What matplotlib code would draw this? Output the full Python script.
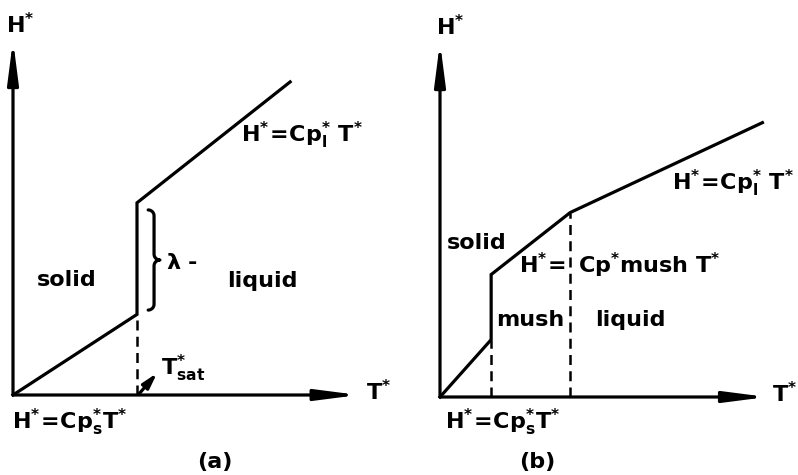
import numpy as np
import matplotlib
matplotlib.use('Agg')
import matplotlib.pyplot as plt

plt.rcParams['font.family'] = 'DejaVu Sans'
plt.rcParams['font.weight'] = 'bold'
plt.rcParams['mathtext.fontset'] = 'dejavusans'
plt.rcParams['mathtext.default'] = 'bf'

# enthalpy-temperature curves (schematic units)
# (a) pure substance: jump of lambda at T_sat
T_a = [0.0, 4.0, 4.0, 8.94]
H_a = [0.0, 2.6, 6.2, 10.1]
# (b) alloy: mushy zone between solidus and liquidus
T_b = [0.0, 1.65, 1.65, 4.2, 10.4]
H_b = [0.0, 1.85, 3.95, 5.95, 8.85]

PX = 31.0  # pixels per unit
LW = 2.3
FS = 16


def panel(fig, left_px, width_px, x0_px, y0_px):
    W, H = 798, 475
    ax = fig.add_axes([left_px / W, 0, width_px / W, 1])
    ax.set_xlim(-(x0_px - left_px) / PX, (left_px + width_px - x0_px) / PX)
    ax.set_ylim(-(H - y0_px) / PX, y0_px / PX)
    ax.axis('off')
    return ax


def axes_arrows(ax, xmax, ymax):
    style = dict(arrowstyle='-|>,head_length=1.4,head_width=0.18',
                 lw=LW, color='black', mutation_scale=18,
                 shrinkA=0, shrinkB=0)
    ax.annotate('', xy=(xmax, 0), xytext=(0, 0), arrowprops=style)
    ax.annotate('', xy=(0, ymax), xytext=(0, 0), arrowprops=style)


def brace(ax, x, y0, y1, w):
    # right-pointing curly brace between y0 and y1
    ym = 0.5 * (y0 + y1)
    r = w * 0.5
    t = np.linspace(0, np.pi / 2, 12)
    xs, ys = [], []
    xs += list(x - r + r * np.sin(t)); ys += list(y0 + r - r * np.cos(t))
    xs += [x, x]; ys += [y0 + r, ym - r]
    xs += list(x + r * (1 - np.cos(t))); ys += list(ym - r + r * np.sin(t))
    xs += list(x + r * (1 - np.cos(t[::-1]))); ys += list(ym + r - r * np.sin(t[::-1]))
    xs += [x, x]; ys += [ym + r, y1 - r]
    xs += list(x - r + r * np.cos(t)); ys += list(y1 - r + r * np.sin(t))
    ax.plot(xs, ys, color='black', lw=LW, solid_capstyle='round')


fig = plt.figure(figsize=(7.98, 4.75), dpi=100)

# ---------------- (a) ----------------
ax = panel(fig, 0, 400, 13, 395)
axes_arrows(ax, 11.15, 11.45)
ax.plot(T_a, H_a, color='black', lw=LW, solid_joinstyle='miter')
ax.plot([T_a[1], T_a[1]], [0, H_a[1]], color='black', lw=1.8, ls=(0, (4, 2.5)))
brace(ax, 4.55, 2.74, 5.97, 0.38)
ax.text(0.23, 11.94, r'$H^{*}$', fontsize=FS, ha='center', va='center')
ax.text(11.8, 0.1, r'$T^{*}$', fontsize=FS, ha='center', va='center')
ax.text(1.74, 3.71, 'solid', fontsize=FS, ha='center', va='center')
ax.text(8.06, 3.68, 'liquid', fontsize=FS, ha='center', va='center')
ax.text(5.45, 4.26, r'$\lambda$ -', fontsize=FS, ha='center', va='center')
ax.text(9.32, 8.39, r'$H^{*}\!=\!Cp_{l}^{*}\ T^{*}$', fontsize=FS, ha='center', va='center')
ax.text(1.84, -0.87, r'$H^{*}\!=\!Cp_{s}^{*}T^{*}$', fontsize=FS, ha='center', va='center')
ax.text(5.5, 0.87, r'$T_{sat}^{*}$', fontsize=FS, ha='center', va='center')
ax.annotate('', xy=(4.65, 0.71), xytext=(4.06, 0.03),
            arrowprops=dict(arrowstyle='-|>,head_length=0.9,head_width=0.25',
                            lw=LW, color='black', mutation_scale=10,
                            shrinkA=0, shrinkB=0))
ax.text(6.52, -2.16, '(a)', fontsize=FS, ha='center', va='center')

# ---------------- (b) ----------------
ax = panel(fig, 400, 398, 440, 397)
axes_arrows(ax, 10.55, 11.45)
ax.plot(T_b, H_b, color='black', lw=LW, solid_joinstyle='miter')
ax.plot([T_b[1], T_b[1]], [0, H_b[1]], color='black', lw=1.8, ls=(0, (4, 2.5)))
ax.plot([T_b[3], T_b[3]], [0, H_b[3]], color='black', lw=1.8, ls=(0, (4, 2.5)))
ax.text(0.32, 11.94, r'$H^{*}$', fontsize=FS, ha='center', va='center')
ax.text(11.1, 0.1, r'$T^{*}$', fontsize=FS, ha='center', va='center')
ax.text(1.19, 4.97, 'solid', fontsize=FS, ha='center', va='center')
ax.text(2.9, 2.48, 'mush', fontsize=FS, ha='center', va='center')
ax.text(6.13, 2.48, 'liquid', fontsize=FS, ha='center', va='center')
ax.text(5.81, 4.26, r'$H^{*}\!=\ Cp^{*}mush\ T^{*}$', fontsize=FS, ha='center', va='center')
ax.text(9.45, 6.9, r'$H^{*}\!=\!Cp_{l}^{*}\ T^{*}$', fontsize=FS, ha='center', va='center')
ax.text(2.03, -0.81, r'$H^{*}\!=\!Cp_{s}^{*}T^{*}$', fontsize=FS, ha='center', va='center')
ax.text(3.13, -2.1, '(b)', fontsize=FS, ha='center', va='center')

fig.savefig('out.png', dpi=100)
